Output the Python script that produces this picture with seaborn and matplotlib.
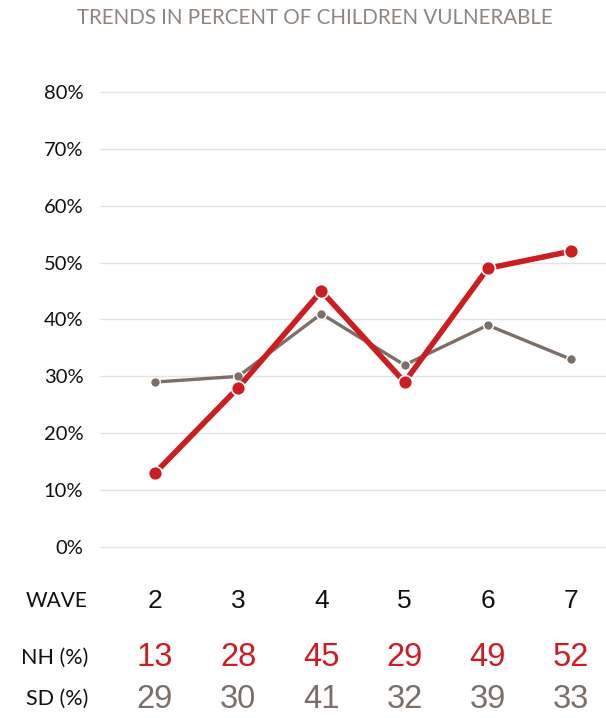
import matplotlib
matplotlib.use("Agg")
import matplotlib.pyplot as plt
import seaborn as sns
import pandas as pd

waves = [2, 3, 4, 5, 6, 7]
nh_pct = [13, 28, 45, 29, 49, 52]
sd_pct = [29, 30, 41, 32, 39, 33]
y_ticks = [0, 10, 20, 30, 40, 50, 60, 70, 80]

RED = "#cc1d23"
GREY = "#7b6f67"

sns.set_theme(style="white")
plt.rcParams["font.family"] = ["Lato", "DejaVu Sans"]

fig = plt.figure(figsize=(6.06, 7.18), dpi=100)
H = 718.0
ax = fig.add_axes([100 / 606, 1 - 558.4 / H, 506 / 606, (558.4 - 80.6) / H])

df = pd.DataFrame({"wave": waves * 2,
                   "pct": nh_pct + sd_pct,
                   "group": ["NH"] * len(waves) + ["SD"] * len(waves)})

sns.lineplot(data=df[df.group == "SD"], x="wave", y="pct", ax=ax, color=GREY,
             linewidth=2.4, marker="o", markersize=7, markeredgecolor="white",
             markeredgewidth=1.0, zorder=3)
sns.lineplot(data=df[df.group == "NH"], x="wave", y="pct", ax=ax, color=RED,
             linewidth=4.0, marker="o", markersize=10, markeredgecolor="white",
             markeredgewidth=1.2, zorder=4)

ax.set_xlim(1.34, 7.42)
ax.set_ylim(-2, 82)
ax.set_yticks(y_ticks)
ax.set_yticklabels([f"{v}%" for v in y_ticks], fontsize=14.5, color="#111111")
ax.tick_params(axis="y", length=0, pad=12)
ax.set_xticks([])
ax.set_xlabel("")
ax.set_ylabel("")
for v in y_ticks:
    ax.axhline(v, color="#e4e4e4", linewidth=1.0, zorder=1)
for s in ax.spines.values():
    s.set_visible(False)
ax.grid(False)

fig.text(315 / 606, 1 - 18 / H, "TRENDS IN PERCENT OF CHILDREN VULNERABLE",
         ha="center", va="center", fontsize=14.8, color="#8f857e")

# table rows under the chart, aligned with the wave positions
def row(label, values, ypx, color, size, label_size):
    yf = 1 - ypx / H
    fig.text(88 / 606, yf, label, ha="right", va="center", fontsize=label_size, color="#111111")
    for w, v in zip(waves, values):
        xd = ax.transData.transform((w, 0))[0]
        xf = fig.transFigure.inverted().transform((xd, 0))[0]
        fig.text(xf, yf, str(v), ha="center", va="center", fontsize=size,
                 color=color, family=["Liberation Sans", "DejaVu Sans"])

row("WAVE", waves, 601, "#111111", 19, 15)
row("NH (%)", nh_pct, 658, RED, 23.5, 15.5)
row("SD (%)", sd_pct, 699, GREY, 23.5, 15.5)

fig.savefig("out.png", dpi=100)
